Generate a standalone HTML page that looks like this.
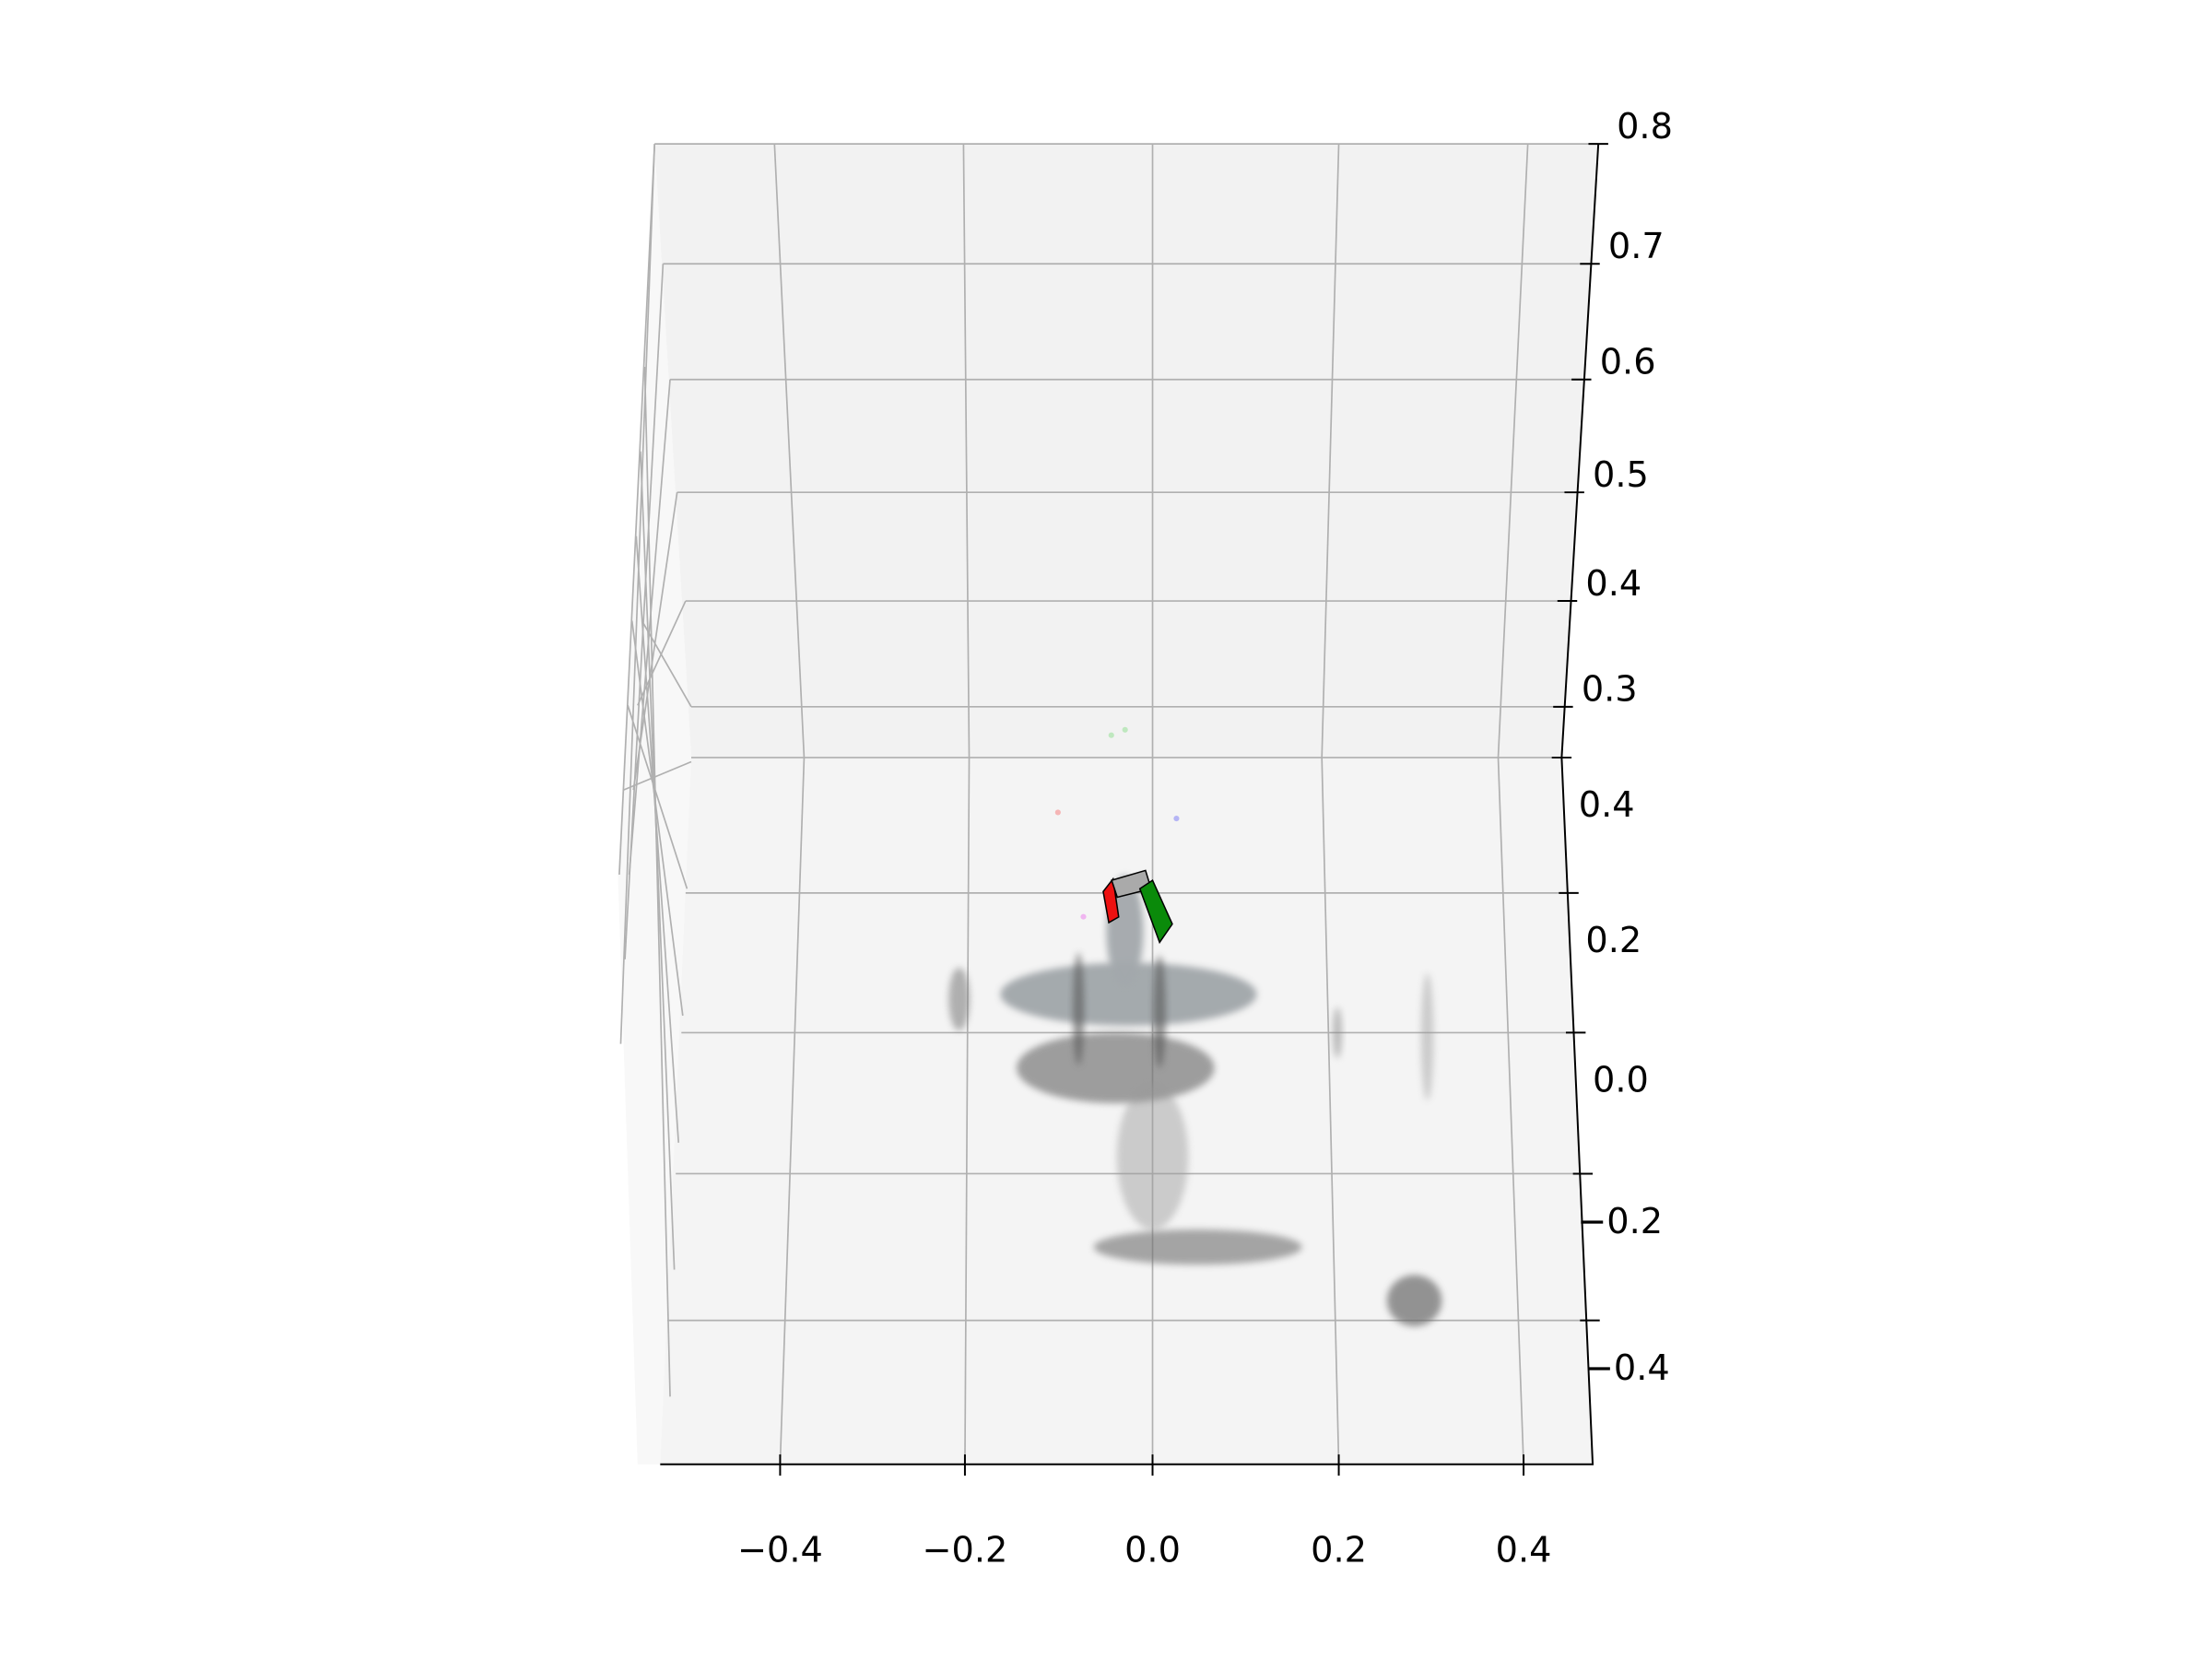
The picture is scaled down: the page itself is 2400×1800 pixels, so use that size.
<!DOCTYPE html>
<html><head><meta charset="utf-8"><style>
html,body{margin:0;padding:0;background:#fff;}
svg{display:block;}
text{font-family:"DejaVu Sans","Liberation Sans",sans-serif;font-size:25px;fill:#000;}
</style></head><body>
<svg id="chart" width="2400" height="1800" viewBox="0 0 1568 1176" xmlns="http://www.w3.org/2000/svg">
<rect width="1568" height="1176" fill="#fff"/>
<g id="panes"></g>
<g id="grid"></g>
<g id="cloud"></g>
<g id="axes"></g>
</svg>
<script>
// ---- data ----
const zTicks = [0.8, 0.7, 0.6, 0.5, 0.4, 0.3];
const zTickLabels = ["0.8", "0.7", "0.6", "0.5", "0.4", "0.3"];
const yTicks = [0.4, 0.2, 0.0, -0.2, -0.4];
const yTickLabels = ["0.4", "0.2", "0.0", "\u22120.2", "\u22120.4"];
const xTicks = [-0.4, -0.2, 0.0, 0.2, 0.4];
const xTickLabels = ["\u22120.4", "\u22120.2", "0.0", "0.2", "0.4"];
// point cloud clusters (x, y data units; sx, sy spreads; shade; opacity)
const blobX  = [-0.026, -0.04, 0.0, 0.05, 0.287, 0.31, 0.21, -0.21, -0.08, 0.008, -0.03];
const blobY  = [0.055, -0.05, -0.176, -0.30, -0.373, -0.006, 0.0, 0.048, 0.034, 0.03, 0.145];
const blobSX = [0.145, 0.11, 0.04, 0.115, 0.03, 0.007, 0.005, 0.012, 0.006, 0.007, 0.02];
const blobSY = [0.045, 0.05, 0.1, 0.024, 0.035, 0.09, 0.036, 0.045, 0.08, 0.08, 0.08];
const blobShade = ["#9ca2a6", "#6f6f6f", "#9a9a9a", "#707070", "#6a6a6a", "#9a9a9a", "#888", "#777", "#555", "#555", "#a3a8ac"];
const blobOpacity = [0.9, 0.65, 0.45, 0.6, 0.7, 0.45, 0.55, 0.55, 0.6, 0.6, 0.95];
// single coloured marker points
const dotX = [-0.045, -0.03, -0.103, 0.028, -0.075];
const dotY = [0.433, 0.441, 0.319, 0.31, 0.166];
const dotColor = ["#bfe8bf", "#bfe8bf", "#f5b5b5", "#b5b5f5", "#f0b5f0"];

// ---- geometry (display coords, viewBox 1568x1176) ----
const zPix = [102, 187, 269, 349, 426, 501];
const zRightX = [1133, 1127, 1121, 1116, 1111, 1108];
const zLeftX = [464, 470, 475, 480, 486, 490];
const floorYPix = [537, 633, 732, 832, 936];
const floorRightX = [1107, 1112, 1117, 1122, 1127];
const floorLeftX = [490, 486, 483, 479, 473];
const backTopX = [549, 683, 817, 949, 1083];
const backBotX = [570, 687, 817, 937, 1062];
const floorTopX = [570, 687, 817, 937, 1062];
const floorBotX = [553, 684, 817, 949, 1080];

const NS = "http://www.w3.org/2000/svg";
function mk(tag, attrs, parent) { const e = document.createElementNS(NS, tag); for (const k in attrs) e.setAttribute(k, attrs[k]); parent.appendChild(e); return e; }
function interp(v, xs, ys) {
  const n = xs.length;
  const dec = xs[0] > xs[n - 1];
  let i;
  if (dec ? v >= xs[0] : v <= xs[0]) i = 0;
  else if (dec ? v <= xs[n - 1] : v >= xs[n - 1]) i = n - 2;
  else { for (i = 0; i < n - 1; i++) { if ((v - xs[i]) * (v - xs[i + 1]) <= 0) break; } }
  const t = (v - xs[i]) / (xs[i + 1] - xs[i]);
  return ys[i] + t * (ys[i + 1] - ys[i]);
}
const floorV = [0.4, 0.2, 0.0, -0.2, -0.4, -0.6];
const floorVY = [537, 633, 732, 832, 936, 1038];
function yScale(v) { return interp(v, floorV, floorVY); }
function xScale(x, sy) {
  const t = (sy - 537) / (1038 - 537);
  const top = interp(x, xTicks, floorTopX), bot = interp(x, xTicks, floorBotX);
  return top + t * (bot - top);
}

const panes = document.getElementById('panes'), grid = document.getElementById('grid'), cloud = document.getElementById('cloud'), axes = document.getElementById('axes');

let p = mk('polygon', {points: "464,102 1133,102 1107,537 490,537", fill: "#f2f2f2"}, panes);
 
p = mk('polygon', {points: "490,537 1107,537 1129,1038 468,1038", fill: "#f4f4f4"}, panes);
 
p = mk('polygon', {points: "464,102 490,537 468,1038 452,1038 438,620", fill: "#f8f8f8"}, panes);
 

const gs = {stroke: "#b0b0b0", "stroke-width": 1.1, fill: "none"};
zTicks.forEach((z, i) => {
  const l = mk('line', Object.assign({x1: zLeftX[i], y1: zPix[i], x2: zRightX[i], y2: zPix[i]}, gs), grid);
   
});
xTicks.forEach((x, i) => {
  const l = mk('line', Object.assign({x1: backTopX[i], y1: 102, x2: backBotX[i], y2: 537}, gs), grid);
   
  const f = mk('line', Object.assign({x1: floorTopX[i], y1: 537, x2: floorBotX[i], y2: 1038}, gs), grid);
   
});
yTicks.forEach((y, i) => {
  const l = mk('line', Object.assign({x1: floorLeftX[i], y1: floorYPix[i], x2: floorRightX[i], y2: floorYPix[i]}, gs), grid);
   
});
// side pane zigzag lines (edge-on wall)
const sideTop = [[464,102],[470,187],[475,269],[480,349],[486,426],[490,501]];
const sideOuter = [[440,620],[443,560],[446,500],[449,440],[452,380],[455,320]];
for (let i = 0; i < 6; i++) {
  const l = mk('line', Object.assign({x1: sideTop[i][0], y1: sideTop[i][1], x2: sideOuter[i][0], y2: sideOuter[i][1] + 120}, gs), grid);
   
  const m = mk('line', Object.assign({x1: sideOuter[i][0] + 2, y1: sideOuter[i][1] - 60, x2: 490 - i * 3, y2: 540 + i * 90}, gs), grid);
   
}
let e = mk('line', Object.assign({x1: 464, y1: 102, x2: 439, y2: 620}, gs), grid);
 

// point cloud
const defs = mk('defs', {}, document.getElementById('chart'));
const flt = mk('filter', {id: 'blur', x: '-50%', y: '-50%', width: '200%', height: '200%'}, defs);
mk('feGaussianBlur', {stdDeviation: 2.5}, flt);
blobX.forEach((x, i) => {
  const cy = yScale(blobY[i]);
  const cx = xScale(x, cy);
  const rx = xScale(x + blobSX[i], cy) - cx;
  const ry = yScale(blobY[i] - blobSY[i]) - cy;
  const b = mk('ellipse', {cx: cx, cy: cy, rx: Math.abs(rx), ry: Math.abs(ry), fill: blobShade[i], opacity: blobOpacity[i], filter: 'url(#blur)'}, cloud);
   
});
dotX.forEach((x, i) => {
  const cy = yScale(dotY[i]);
  const d = mk('circle', {cx: xScale(x, cy), cy: cy, r: 2, fill: dotColor[i]}, cloud);
   
});
// gripper
let g = mk('polygon', {points: "782,632 789,623 793,650 786,654", fill: "#ee1111", stroke: "#000", "stroke-width": 1}, cloud);
 
g = mk('polygon', {points: "788,624 812,617 816,630 792,636", fill: "#aaa", stroke: "#000", "stroke-width": 1}, cloud);
 
g = mk('polygon', {points: "808,630 817,624 831,655 822,668", fill: "#0a8a0a", stroke: "#000", "stroke-width": 1}, cloud);
 

// axes lines
const ax = {stroke: "#000", "stroke-width": 1.3, fill: "none"};
e = mk('polyline', Object.assign({points: "1133,102 1107,537 1129,1038 468,1038"}, ax), axes);
 
zTicks.forEach((z, i) => {
  const t = mk('line', Object.assign({x1: zRightX[i] - 7, y1: zPix[i], x2: zRightX[i] + 7, y2: zPix[i]}, ax), axes);
   
  const tx = mk('text', {x: zRightX[i] + 13, y: zPix[i] - 4}, axes); tx.textContent = zTickLabels[i];
   
});
yTicks.forEach((y, i) => {
  const t = mk('line', Object.assign({x1: floorRightX[i] - 7, y1: floorYPix[i], x2: floorRightX[i] + 7, y2: floorYPix[i]}, ax), axes);
   
  const neg = yTickLabels[i].charAt(0) === "\u2212";
  const tx = mk('text', {x: floorRightX[i] + (neg ? -4 : 12), y: floorYPix[i] + 42}, axes); tx.textContent = yTickLabels[i];
   
});
xTicks.forEach((x, i) => {
  const t = mk('line', Object.assign({x1: floorBotX[i], y1: 1031, x2: floorBotX[i], y2: 1046}, ax), axes);
   
  const tx = mk('text', {x: floorBotX[i], y: 1107, "text-anchor": "middle"}, axes); tx.textContent = xTickLabels[i];
   
});
</script>
</body></html>
